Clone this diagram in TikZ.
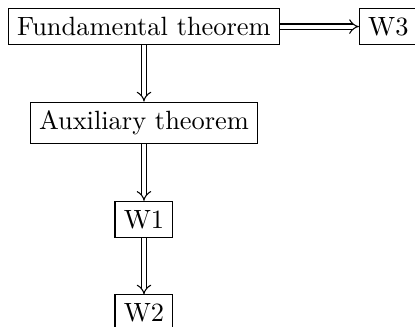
\documentclass[tikz,border=0pt]{standalone}
\usepackage{amsmath}
\usepackage{tikz}
\usetikzlibrary{positioning,arrows.meta}

\begin{document}
\begin{tikzpicture}[node distance=0.75cm]
      \node[draw] (fund) {Fundamental theorem};
      \node[draw,right=1.05cm of fund] (w3) {W3};
      \node[draw,below=of fund] (aux) {Auxiliary theorem};
      \node[draw,below=of aux] (w1) {W1};
      \node[draw,below=of w1] (w2) {W2};
      \draw[double equal sign distance,-Implies] (fund) -- (w3);
      \draw[double equal sign distance,-Implies] (fund) -- (aux);
      \draw[double equal sign distance,-Implies] (aux) -- (w1);
      \draw[double equal sign distance,-Implies] (w1) -- (w2);
      \pgfresetboundingbox
      \useasboundingbox ([xshift=-3pt,yshift=3pt]fund.north west) rectangle ++(157.2pt,-123.5pt);
    \end{tikzpicture}
\end{document}
